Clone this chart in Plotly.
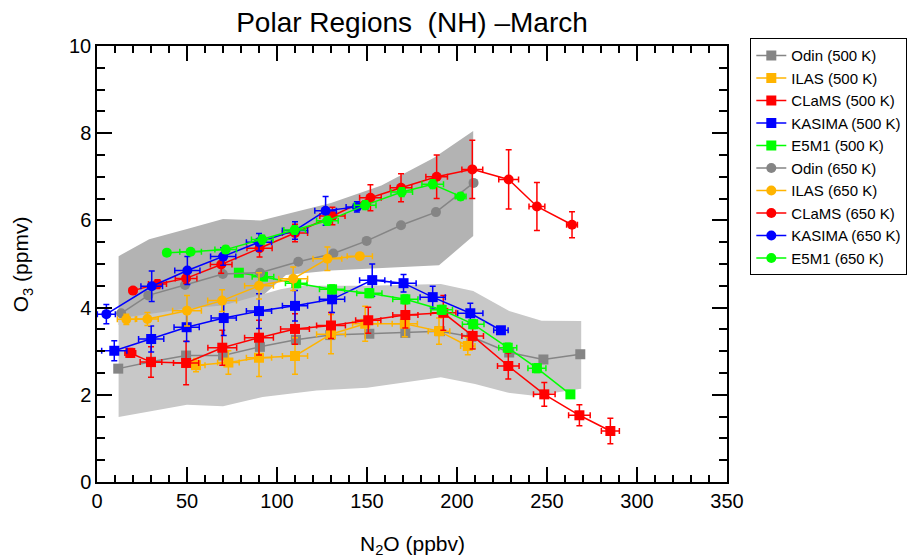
import plotly.graph_objects as go

# ---------------- data ----------------
# shaded ranges (N2O ppbv, O3 ppmv)
band650_x_top = [12, 29, 50, 70, 91, 108, 130, 158, 187, 209]
band650_y_top = [5.18, 5.57, 5.80, 6.03, 6.00, 6.17, 6.40, 6.80, 7.43, 8.05]
band650_x_bot = [209, 190, 170, 150, 130, 105, 90, 50, 12]
band650_y_bot = [5.64, 4.97, 4.93, 4.90, 4.85, 4.75, 4.20, 3.90, 3.60]

band500_x_top = [12, 31, 50, 70, 90, 102, 113, 150, 191, 209, 229, 247, 269]
band500_y_top = [3.75, 3.86, 3.98, 4.05, 4.28, 4.42, 4.50, 4.50, 4.54, 4.38, 3.92, 3.70, 3.69]
band500_x_bot = [269, 243, 228, 210, 191, 150, 122, 92, 70, 50, 12]
band500_y_bot = [2.14, 1.98, 2.05, 2.25, 2.40, 2.16, 2.10, 1.95, 1.74, 1.77, 1.49]

odin500_x = [11.8, 30, 49.5, 70, 90.5, 110.5, 129.6, 151.3, 171.3, 190.5, 208, 229, 248, 268.5]
odin500_y = [2.60, 2.76, 2.90, 2.90, 3.10, 3.26, 3.37, 3.40, 3.42, 3.46, 3.33, 2.97, 2.81, 2.93]

ilas500_x = [55, 73, 90, 110, 130, 149, 171, 190, 206]
ilas500_y = [2.68, 2.74, 2.85, 2.89, 3.39, 3.63, 3.63, 3.46, 3.12]
ilas500_ex = [5, 6, 7, 7, 8, 7, 7, 6, 4]
ilas500_ey = [0.15, 0.27, 0.43, 0.42, 0.45, 0.40, 0.30, 0.30, 0.20]

clams500_x = [18.5, 30, 49.5, 69.6, 90, 110, 130, 150.7, 171.3, 192.4, 208.7, 228.5, 248.5, 268, 285.2]
clams500_y = [2.96, 2.75, 2.73, 3.08, 3.31, 3.51, 3.59, 3.71, 3.83, 3.88, 3.35, 2.66, 2.01, 1.53, 1.17]
clams500_ex = [3, 6, 7, 8, 8, 8, 8, 7, 7, 7, 6, 6, 6, 6, 5]
clams500_ey = [0.10, 0.35, 0.50, 0.40, 0.40, 0.35, 0.30, 0.30, 0.30, 0.40, 0.30, 0.30, 0.27, 0.24, 0.29]

kasima500_x = [9.6, 30.1, 49.8, 70.4, 90, 110, 130.6, 152.9, 170.3, 186.5, 207.4, 224.4]
kasima500_y = [3.01, 3.28, 3.55, 3.76, 3.92, 4.04, 4.19, 4.63, 4.56, 4.24, 3.87, 3.48]
kasima500_ex = [7, 7, 7, 7, 7, 7, 7, 7, 7, 7, 7, 4]
kasima500_ey = [0.23, 0.30, 0.33, 0.40, 0.40, 0.35, 0.30, 0.37, 0.20, 0.25, 0.23, 0.05]

e5m1500_x = [78.8, 92.2, 110.7, 130.6, 151.3, 171.3, 191.5, 209, 228.2, 244.4, 263]
e5m1500_y = [4.80, 4.71, 4.56, 4.42, 4.33, 4.19, 3.95, 3.62, 3.08, 2.61, 2.01]
e5m1500_ex = [0, 6, 6, 7, 7, 7, 6, 6, 5, 5, 0]
e5m1500_ey = [0, 0.08, 0.1, 0.1, 0.1, 0.1, 0.1, 0.1, 0.1, 0.1, 0]

odin650_x = [13.4, 28.5, 48.9, 69.9, 90.6, 111.8, 131.3, 149.8, 168.9, 188.3, 209.2]
odin650_y = [3.87, 4.28, 4.52, 4.77, 4.80, 5.05, 5.24, 5.53, 5.89, 6.19, 6.86]

ilas650_x = [16.3, 28, 50, 69.5, 90, 109, 128, 146]
ilas650_y = [3.73, 3.74, 3.93, 4.16, 4.50, 4.66, 5.12, 5.18]
ilas650_ex = [5, 6, 8, 8, 8, 8, 8, 7]
ilas650_ey = [0.12, 0.15, 0.35, 0.25, 0.30, 0.27, 0.27, 0.05]

clams650_x = [20, 33.6, 49.5, 69, 90.3, 110, 130.8, 151.9, 168.9, 188.7, 208.5, 228.7, 244.4, 263.9]
clams650_y = [4.39, 4.54, 4.67, 4.99, 5.36, 5.71, 6.10, 6.52, 6.75, 7.00, 7.17, 6.94, 6.32, 5.90]
clams650_ex = [2, 5, 6, 6, 7, 7, 7, 6, 6, 6, 5.8, 5.5, 4.4, 3]
clams650_ey = [0.05, 0.10, 0.12, 0.20, 0.20, 0.20, 0.20, 0.30, 0.32, 0.50, 0.67, 0.68, 0.55, 0.30]

kasima650_x = [5.2, 30.4, 50.2, 70.1, 90, 110, 127, 144.4]
kasima650_y = [3.85, 4.49, 4.85, 5.17, 5.50, 5.77, 6.22, 6.31]
kasima650_ex = [5, 6, 7, 7, 7, 7, 6, 6]
kasima650_ey = [0.22, 0.35, 0.32, 0.20, 0.20, 0.20, 0.33, 0.12]

e5m1650_x = [38.8, 52, 71.5, 91.8, 109.8, 128, 149, 169.3, 186.5, 202]
e5m1650_y = [5.26, 5.28, 5.33, 5.56, 5.78, 5.99, 6.35, 6.65, 6.83, 6.55]
e5m1650_ex = [0, 6, 6, 6, 6, 6, 6, 6, 6, 3]
e5m1650_ey = [0, 0.06, 0.08, 0.1, 0.1, 0.1, 0.1, 0.1, 0.1, 0.08]

x_ticks = [0, 50, 100, 150, 200, 250, 300, 350]
y_ticks = [0, 2, 4, 6, 8, 10]

# ---------------- styling ----------------
GRAY = "#858585"
ORANGE = "#FFB400"
RED = "#FF0000"
BLUE = "#0000FF"
GREEN = "#00FF00"
FONT = "Liberation Sans, Arial, sans-serif"

fig = go.Figure()

# bands
fig.add_trace(go.Scatter(x=band650_x_top + band650_x_bot, y=band650_y_top + band650_y_bot,
                         fill="toself", fillcolor="#B3B3B3", line=dict(width=0),
                         mode="lines", showlegend=False, hoverinfo="skip"))
fig.add_trace(go.Scatter(x=band500_x_top + band500_x_bot, y=band500_y_top + band500_y_bot,
                         fill="toself", fillcolor="#C8C8C8", line=dict(width=0),
                         mode="lines", showlegend=False, hoverinfo="skip"))


def err(arr, color):
    if arr is None:
        return None
    return dict(type="data", array=arr, visible=True, color=color, thickness=1.5, width=3)


def add(name, x, y, color, symbol, ex=None, ey=None):
    fig.add_trace(go.Scatter(
        x=x, y=y, name=name, mode="lines+markers",
        line=dict(color=color, width=1.5),
        marker=dict(color=color, symbol=symbol, size=10, line=dict(width=0)),
        error_x=err(ex, color), error_y=err(ey, color),
    ))


add("Odin (500 K)", odin500_x, odin500_y, GRAY, "square")
add("ILAS (500 K)", ilas500_x, ilas500_y, ORANGE, "square", ilas500_ex, ilas500_ey)
add("CLaMS (500 K)", clams500_x, clams500_y, RED, "square", clams500_ex, clams500_ey)
add("KASIMA (500 K)", kasima500_x, kasima500_y, BLUE, "square", kasima500_ex, kasima500_ey)
add("E5M1 (500 K)", e5m1500_x, e5m1500_y, GREEN, "square", e5m1500_ex, e5m1500_ey)
add("Odin (650 K)", odin650_x, odin650_y, GRAY, "circle")
add("ILAS (650 K)", ilas650_x, ilas650_y, ORANGE, "circle", ilas650_ex, ilas650_ey)
add("CLaMS (650 K)", clams650_x, clams650_y, RED, "circle", clams650_ex, clams650_ey)
add("KASIMA (650 K)", kasima650_x, kasima650_y, BLUE, "circle", kasima650_ex, kasima650_ey)
add("E5M1 (650 K)", e5m1650_x, e5m1650_y, GREEN, "circle", e5m1650_ex, e5m1650_ey)

axis_common = dict(showline=True, linecolor="black", linewidth=1.5, mirror="ticks",
                   ticks="inside", tickcolor="black", tickwidth=1.5,
                   showgrid=False, zeroline=False,
                   tickfont=dict(family=FONT, size=20, color="black"))

fig.update_xaxes(range=[0, 350], tickvals=x_ticks, ticklen=15,
                 minor=dict(dtick=10, ticks="inside", ticklen=7, tickwidth=1.5, tickcolor="black"),
                 **axis_common)
fig.update_yaxes(range=[0, 10], tickvals=y_ticks, ticklen=15,
                 minor=dict(dtick=0.5, ticks="inside", ticklen=8, tickwidth=1.5, tickcolor="black"),
                 **axis_common)

fig.update_layout(
    width=913, height=558,
    margin=dict(l=97, r=186, t=46, b=76, autoexpand=False),
    paper_bgcolor="white", plot_bgcolor="white",
    font=dict(family=FONT, color="black"),
    title=dict(text="Polar Regions  (NH) \u2013March", x=0.5, xref="paper",
               y=1 - 22 / 558, yanchor="middle", yref="container",
               font=dict(family=FONT, size=28, color="black")),
    legend=dict(x=1.037, y=1.0177, xanchor="left", yanchor="top",
                bordercolor="black", borderwidth=1, bgcolor="white",
                font=dict(family=FONT, size=15, color="black"),
                itemwidth=30),
    annotations=[
        dict(text="N<sub>2</sub>O (ppbv)", x=0.5, y=-0.145, xref="paper", yref="paper",
             xanchor="center", yanchor="middle", showarrow=False,
             font=dict(family=FONT, size=21, color="black")),
        dict(text="O<sub>3</sub> (ppmv)", x=-0.1186, y=0.5, xref="paper", yref="paper",
             xanchor="center", yanchor="middle", showarrow=False, textangle=-90,
             font=dict(family=FONT, size=21, color="black")),
    ],
)

fig.write_html("out.html")
